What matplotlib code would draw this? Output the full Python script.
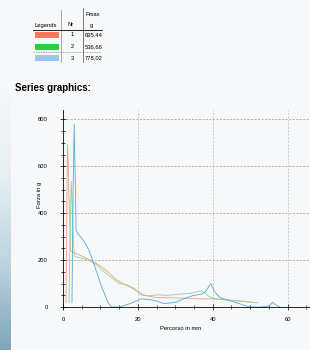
import numpy as np
import matplotlib.pyplot as plt
from matplotlib.patches import Rectangle
from matplotlib.lines import Line2D
from matplotlib.colors import LinearSegmentedColormap

plt.rcParams['font.family'] = ['Liberation Sans', 'DejaVu Sans']

# legend table values
series_nr = ["1", "2", "3"]
fmax = ["695,44", "536,66", "778,02"]
series_colors = ["#f47a5c", "#2ecc40", "#9cc4f0"]
line_colors = ["#eea27a", "#8fd39a", "#5aa6d6"]

# curves (percorso mm, forza g)
x1 = [0.8, 1.0, 1.2, 1.4, 1.7, 2.0, 3, 4, 6, 8, 10, 12, 14, 16, 18, 20, 22, 25, 28, 32, 36, 40, 44, 48, 52]
y1 = [20, 400, 695, 600, 400, 240, 232, 225, 210, 195, 175, 150, 120, 100, 85, 65, 50, 40, 40, 38, 35, 35, 30, 25, 18]

x2 = [1.6, 1.9, 2.2, 2.5, 2.8, 3.2, 5, 7, 9, 11, 13, 15, 17, 19, 21, 23, 25, 28, 31, 34, 37, 39, 41, 44, 47, 51]
y2 = [20, 300, 536, 420, 260, 215, 208, 198, 180, 150, 125, 100, 95, 80, 50, 48, 52, 50, 55, 58, 70, 45, 35, 30, 25, 20]

x3 = [2.4, 2.7, 3.0, 3.2, 3.5, 4, 5, 6, 7, 8, 9, 10, 11, 12, 13, 15, 18, 21, 24, 27, 30, 33, 35, 37, 38, 39.5, 40.5, 42, 44, 47, 50, 53, 55, 56, 57, 58]
y3 = [20, 500, 778, 600, 330, 310, 295, 270, 240, 195, 150, 100, 60, 20, 0, 0, 15, 35, 30, 15, 20, 40, 50, 55, 65, 100, 65, 40, 30, 15, 0, 0, 5, 20, 8, 0]

bg = "#f6f8fa"
fig = plt.figure(figsize=(3.1, 3.5), dpi=100, facecolor=bg)

# blue-grey strip on the left edge
strip = fig.add_axes([0, 0, 11 / 310, 1])
grad = np.linspace(0, 1, 256).reshape(-1, 1)
cm = LinearSegmentedColormap.from_list("strip", [bg, bg, "#e6eff4", "#bdd4df", "#7ea6b8"])
strip.imshow(grad, aspect="auto", cmap=cm, extent=[0, 1, 0, 1], origin="upper")
strip.axis("off")

W, H = 310, 350
def fx(px):
    return px / W
def fy(py):
    return 1 - py / H

# legend table
fs = 4.2
fig.text(fx(86), fy(14), "Fmax", fontsize=fs, va="center", ha="left")
fig.text(fx(91), fy(26), "g", fontsize=fs, va="center", ha="center")
fig.text(fx(46), fy(25), "Legends", fontsize=fs, va="center", ha="center")
fig.text(fx(71), fy(25), "Nr", fontsize=fs, va="center", ha="center")
fig.add_artist(Line2D([fx(61), fx(61)], [fy(10), fy(62)], color="#999999", lw=0.6))
fig.add_artist(Line2D([fx(83), fx(83)], [fy(8), fy(62)], color="#666666", lw=0.6))
fig.add_artist(Line2D([fx(33), fx(102)], [fy(30), fy(30)], color="#222222", lw=0.7))
fig.add_artist(Line2D([fx(33), fx(100)], [fy(52), fy(52)], color="#888888", lw=0.5, ls=(0, (2, 1.5))))
row_y = [35, 46.5, 58]
for ry, nr, fm, c in zip(row_y, series_nr, fmax, series_colors):
    fig.add_artist(Rectangle((fx(35), fy(ry + 3)), fx(24), 6 / H, color=c, lw=0))
    fig.text(fx(72), fy(ry), nr, fontsize=fs, va="center", ha="center")
    fig.text(fx(85), fy(ry), fm, fontsize=fs, va="center", ha="left")

fig.text(fx(15), fy(88), "Series graphics:", fontsize=7, fontweight="bold", va="center", ha="left")

# main chart
ax = fig.add_axes([fx(63), fy(309.4), fx(310 - 63), (309.4 - 110) / H])
ax.set_facecolor(bg)
ax.plot(x1, y1, color=line_colors[0], lw=0.6)
ax.plot(x2, y2, color=line_colors[1], lw=0.6)
ax.plot(x3, y3, color=line_colors[2], lw=0.6)

ax.set_xlim(0, 66)
ax.set_ylim(-10, 840)
ax.spines["top"].set_visible(False)
ax.spines["right"].set_visible(False)
ax.spines["bottom"].set_position(("data", 0))
ax.spines["left"].set_linewidth(0.6)
ax.spines["bottom"].set_linewidth(0.6)
ax.set_xticks([0, 20, 40, 60])
ax.set_yticks([0, 200, 400, 600, 800])
ax.set_xticks(np.arange(0, 66, 5), minor=True)
ax.set_yticks(np.arange(0, 840, 50), minor=True)
ax.tick_params(which="both", direction="inout", width=0.5, labelsize=4.2)
ax.tick_params(which="major", length=4)
ax.tick_params(which="minor", length=3)
ax.tick_params(axis="y", pad=9)
ax.tick_params(axis="x", pad=5)
for g in [200, 400, 600, 800]:
    ax.axhline(g, color="#999999", lw=0.5, ls=(0, (3, 2)), zorder=0)
for g in [20, 40, 60]:
    ax.axvline(g, color="#bbbbbb", lw=0.5, ls=(0, (3, 2)), zorder=0)

fig.text(fx(40), fy(195), "Forza in g", fontsize=4.2, rotation=90, va="center", ha="center")
fig.text(fx(180), fy(329), "Percorso in mm", fontsize=4.2, va="center", ha="center")

plt.savefig("out.png", dpi=100, facecolor=bg)
